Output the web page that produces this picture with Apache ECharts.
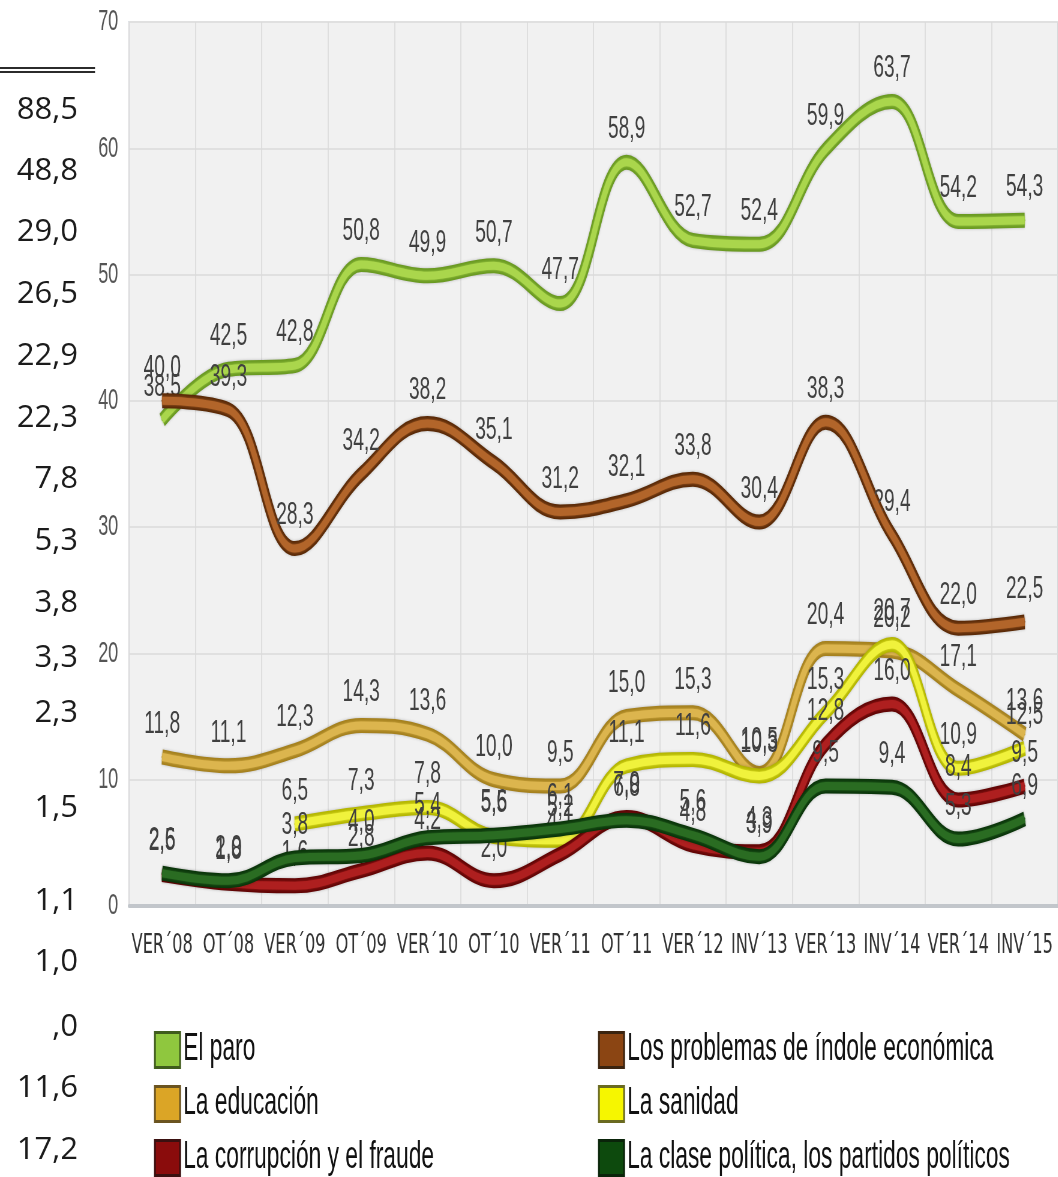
<!DOCTYPE html>
<html>
<head>
<meta charset="utf-8">
<script src="https://cdn.jsdelivr.net/npm/echarts@6/dist/echarts.min.js"></script>
<style>
    html, body { margin: 0; padding: 0; background: #fff; overflow: hidden; }
    #wrap { width: 1058px; height: 1177px; overflow: hidden; position: relative; }
    /* the source picture is a horizontally squeezed screenshot */
    #chart { width: 1763px; height: 1177px; transform: scaleX(0.6); transform-origin: 0 0; }
</style>
</head>
<body>
<div id="wrap"><div id="chart"></div></div>
<script>
var SQ = 0.6

var categories = ['VER\u00b408', 'OT\u00b408', 'VER\u00b409', 'OT\u00b409', 'VER\u00b410', 'OT\u00b410', 'VER\u00b411',
    'OT\u00b411', 'VER\u00b412', 'INV\u00b413', 'VER\u00b413', 'INV\u00b414', 'VER\u00b414', 'INV\u00b415']

var paro       = [38.5, 42.5, 42.8, 50.8, 49.9, 50.7, 47.7, 58.9, 52.7, 52.4, 59.9, 63.7, 54.2, 54.3]
var economica  = [40.0, 39.3, 28.3, 34.2, 38.2, 35.1, 31.2, 32.1, 33.8, 30.4, 38.3, 29.4, 22.0, 22.5]
var educacion  = [11.8, 11.1, 12.3, 14.3, 13.6, 10.0, 9.5, 15.0, 15.3, 10.5, 20.4, 20.2, 17.1, 13.6]
var sanidad    = [null, null, 6.5, 7.3, 7.8, 5.5, 5.2, 11.1, 11.6, 10.3, 15.3, 20.7, 10.9, 12.5]
var corrupcion = [2.5, 1.8, 1.6, 2.8, 4.2, 2.0, 4.1, 7.0, 4.8, 4.3, 12.8, 16.0, 8.4, 9.5]
var clase      = [2.6, 2.0, 3.8, 4.0, 5.4, 5.6, 6.1, 6.8, 5.6, 3.9, 9.5, 9.4, 5.3, 6.9]

// column of numbers cut off on the left of the screenshot
var sideTexts = ['88,5', '48,8', '29,0', '26,5', '22,9', '22,3', '7,8', '5,3', '3,8', '3,3', '2,3',
    '1,5', '1,1', '1,0', ',0', '11,6', '17,2']
var sideTextY = [110, 171, 232, 294, 356, 418, 479, 541, 603, 658, 713, 808, 901, 962, 1027, 1088, 1150]

var FONT = '"Liberation Sans", Arial, sans-serif'

function fmt(v) {
    return v.toFixed(1).replace('.', ',')
}

// each line is drawn twice: a dark wide stroke and a lighter core on top (tube look)
function tube(name, data, core, edge, z) {
    var outer = {
        name: name,
        type: 'line',
        data: data,
        smooth: 0.4,
        z: z,
        symbol: 'circle',
        symbolSize: 2,
        lineStyle: { width: 15, color: edge, shadowColor: 'rgba(0,0,0,0.25)', shadowBlur: 3 },
        itemStyle: { color: edge },
        label: {
            show: true,
            position: 'top',
            distance: 16,
            fontFamily: FONT,
            fontSize: 32,
            color: '#404040',
            formatter: function(p) { return fmt(p.value) }
        },
        emphasis: { disabled: true },
        silent: true
    }
    var inner = {
        name: name,
        type: 'line',
        data: data,
        smooth: 0.4,
        z: z + 0.5,
        showSymbol: false,
        lineStyle: { width: 8, color: core, shadowColor: core, shadowBlur: 3 },
        itemStyle: { color: core },
        emphasis: { disabled: true },
        silent: true
    }
    return [outer, inner]
}

var graphics = []
sideTexts.forEach(function(t, i) {
    graphics.push({
        type: 'text',
        x: 78 / SQ,
        y: sideTextY[i],
        scaleX: 1 / SQ,
        style: {
            text: t,
            fontSize: 31,
            fontFamily: '"Open Sans", sans-serif',
            fill: '#1b1b1b',
            align: 'right',
            verticalAlign: 'middle',
            textAlign: 'right',
            textVerticalAlign: 'middle'
        }
    })
})
// double rule above the numbers
graphics.push({ type: 'line', shape: { x1: 0, y1: 68, x2: 95 / SQ, y2: 68 }, style: { stroke: '#2b2b2b', lineWidth: 2 } })
graphics.push({ type: 'line', shape: { x1: 0, y1: 72, x2: 95 / SQ, y2: 72 }, style: { stroke: '#2b2b2b', lineWidth: 2 } })

function legendItem(name, color, border) {
    return { name: name, itemStyle: { color: color, borderColor: border, borderWidth: 3 } }
}

var legendBase = {
    orient: 'vertical',
    top: 1031,
    height: 146,
    padding: 0,
    icon: 'rect',
    itemWidth: 42,
    itemHeight: 35,
    itemGap: 16,
    selectedMode: false,
    textStyle: { fontFamily: FONT, fontSize: 38, color: '#111' }
}

var chart = echarts.init(document.getElementById('chart'))

var series = [].concat(
    tube('El paro', paro, '#aad64c', '#6a9a22', 2),
    tube('Los problemas de índole económica', economica, '#b2652a', '#5a2a08', 3),
    tube('La educación', educacion, '#dcb54e', '#a5811e', 4),
    tube('La sanidad', sanidad, '#f0f23c', '#b4b600', 5),
    tube('La corrupción y el fraude', corrupcion, '#ae1f1f', '#620606', 6),
    tube('La clase política, los partidos políticos', clase, '#2a6c22', '#0b360b', 7)
)

var option = {
    backgroundColor: '#fff',
    animation: false,
    grid: {
        left: 129 / SQ,
        right: 0,
        top: 22,
        bottom: 271,
        show: true,
        backgroundColor: '#f1f1f1',
        borderColor: '#cbd3dc',
        borderWidth: 2
    },
    legend: [
        Object.assign({}, legendBase, {
            left: 154 / SQ,
            data: [
                legendItem('El paro', '#8fc73e', '#3f5c1c'),
                legendItem('La educación', '#dba526', '#6b5420'),
                legendItem('La corrupción y el fraude', '#8a0c0c', '#3a1010')
            ]
        }),
        Object.assign({}, legendBase, {
            left: 598 / SQ,
            data: [
                legendItem('Los problemas de índole económica', '#8b4513', '#3b2410'),
                legendItem('La sanidad', '#f6f600', '#6a6a20'),
                legendItem('La clase política, los partidos políticos', '#0d4a0d', '#0a240a')
            ]
        })
    ],
    xAxis: {
        type: 'category',
        data: categories,
        boundaryGap: true,
        axisTick: { show: false },
        axisLine: { lineStyle: { color: '#c2c6cb', width: 4 } },
        axisLabel: {
            interval: 0,
            margin: 26,
            fontFamily: '"DejaVu Sans", sans-serif',
            fontSize: 27,
            color: '#333'
        },
        splitLine: { show: true, interval: 0, lineStyle: { color: '#dadada', width: 1.6 } }
    },
    yAxis: {
        type: 'value',
        min: 0,
        max: 70,
        interval: 10,
        axisLine: { show: false },
        axisTick: { show: false },
        axisLabel: { margin: 18, fontFamily: FONT, fontSize: 30, color: '#555' },
        splitLine: { lineStyle: { color: '#e0e0e0', width: 2 } }
    },
    graphic: graphics,
    series: series
}

chart.setOption(option)
</script>
</body>
</html>
